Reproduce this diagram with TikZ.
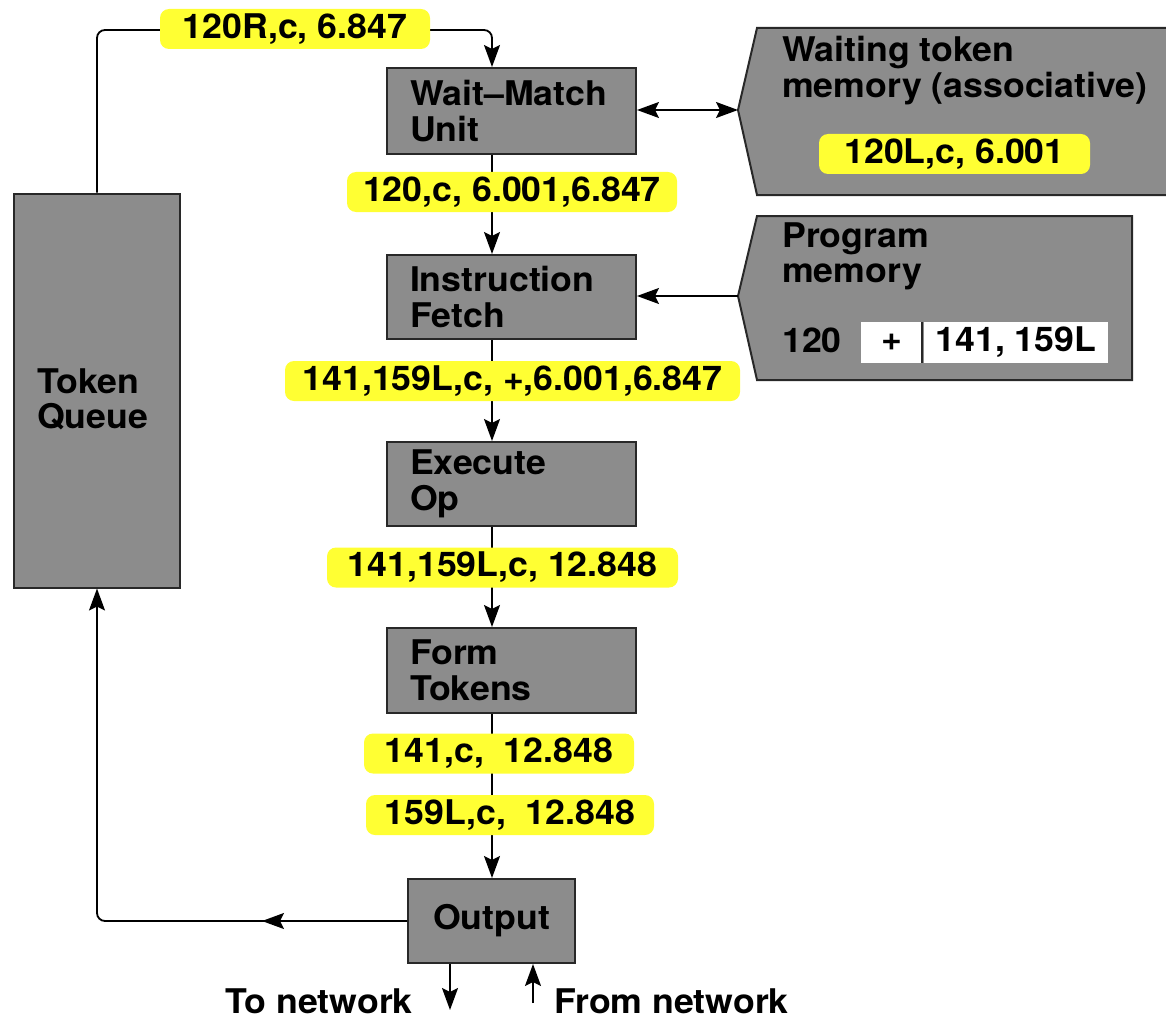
\documentclass[tikz,border=0pt]{standalone}
\usepackage{fontspec}
\setmainfont{TeX Gyre Heros}[FakeStretch=1.05]
\usetikzlibrary{arrows.meta,calc}
\definecolor{boxgray}{RGB}{140,140,140}
\definecolor{hl}{RGB}{255,255,51}
\definecolor{edge}{RGB}{40,40,40}
\begin{document}
\begin{tikzpicture}[x=1pt,y=-1pt,
  every node/.style={font=\fontsize{34}{36}\selectfont\bfseries, text=black},
  unit/.style={draw=edge, fill=boxgray, line width=2pt, inner xsep=23pt, inner ysep=0pt, align=left},
  tag/.style={fill=hl, rounded corners=9pt, inner sep=0pt, minimum height=40pt, align=center},
  txt/.style={inner sep=0pt},
  wire/.style={line width=1.8pt, draw=black},
  arr/.style={wire, -{Stealth[length=22pt,width=16pt,inset=4pt]}},
  darr/.style={wire, {Stealth[length=22pt,width=16pt,inset=4pt]}-{Stealth[length=22pt,width=16pt,inset=4pt]}},
  mem/.style={draw=edge, fill=boxgray, line width=2pt},
  cell/.style={fill=white, inner sep=0pt, minimum height=41pt}]
\useasboundingbox (0,0) rectangle (1166,1019);

% memories
\coordinate (wtm) at (738,110);
\draw[mem] (wtm) -- (757,28) -- (1180,28) -- (1180,195) -- (757,195) -- cycle;
\node[txt, anchor=base west] (wtmA) at (782,62) {Waiting token};
\node[txt, anchor=base west] (wtmB) at (782,98) {memory (associative)};
\node[tag, minimum width=271pt] (wtmtag) at (954.5,154) {120L,c, 6.001};

\coordinate (pm) at (738,296);
\draw[mem] (pm) -- (757,216) -- (1132,216) -- (1132,380) -- (757,380) -- cycle;
\node[txt, anchor=base west] (pmA) at (782,247) {Program};
\node[txt, anchor=base west] (pmB) at (782,282) {memory};
\node[txt, anchor=base west] (pmC) at (782,352) {120};
\node[cell, minimum width=61pt] (pc1) at (891.5,342.5) {+};
\node[cell, minimum width=184pt] (pc2) at (1016,342.5) {141, 159L};
\draw[line width=2pt, draw=edge] (pc1.north east) -- (pc1.south east);

% units
\node[unit, minimum width=166pt, minimum height=394pt] (tq) at (97,390.5) {};
\node[txt, anchor=base west] (tqA) at (37,393) {Token};
\node[txt, anchor=base west] (tqB) at (37,428) {Queue};
\node[unit, text width=203pt, minimum height=86pt] (wm) at (511.5,111) {Wait--Match\\Unit};
\node[unit, text width=203pt, minimum height=84pt] (if) at (511.5,297) {Instruction\\Fetch};
\node[unit, text width=203pt, minimum height=84pt] (eo) at (511.5,484) {Execute\\Op};
\node[unit, text width=203pt, minimum height=85pt] (ft) at (511.5,670.5) {Form\\Tokens};
\node[unit, align=center, inner xsep=0pt, minimum width=167pt, minimum height=84pt] (out) at (491.5,921) {Output};

% connectors
\coordinate (col) at (492,0);
\coordinate (tr) at (492,30);
\coordinate (mid) at (262,921);
\coordinate (tonet) at (450,1010);
\coordinate (fromnet) at (533,1003);

\draw[arr, rounded corners=8pt] (tq.north) |- (tr) -- (wm.north -| col);
\draw[darr] (wm.east |- wtm) -- (wtm);
\draw[arr] (pm) -- (if.east |- pm);
\draw[arr] (wm.south -| col) -- (if.north -| col);
\draw[arr] (if.south -| col) -- (eo.north -| col);
\draw[arr] (eo.south -| col) -- (ft.north -| col);
\draw[arr] (ft.south -| col) -- (out.north -| col);
\draw[arr, rounded corners=8pt] (out.west) -| (tq.south);
\draw[arr] (out.west) -- (mid);
\draw[arr] (out.south -| tonet) -- (tonet);
\draw[arr] (fromnet) -- (out.south -| fromnet);

% labels
\node[tag, minimum width=270pt] (l1) at (295,29) {120R,c, 6.847};
\node[tag, minimum width=330pt] (l2) at (512,192) {120,c, 6.001,6.847};
\node[tag, minimum width=455pt] (l3) at (512.5,381) {141,159L,c, +,6.001,6.847};
\node[tag, minimum width=351pt] (l4) at (502.5,567.5) {141,159L,c, 12.848};
\node[tag, minimum width=270pt] (l5) at (499,753.5) {141,c, \ 12.848};
\node[tag, minimum width=288pt] (l6) at (510,815) {159L,c, \ 12.848};

\node[txt, anchor=base east] (tnl) at (413,1013) {To network};
\node[txt, anchor=base west] (fnl) at (554,1013) {From network};
\end{tikzpicture}
\end{document}
